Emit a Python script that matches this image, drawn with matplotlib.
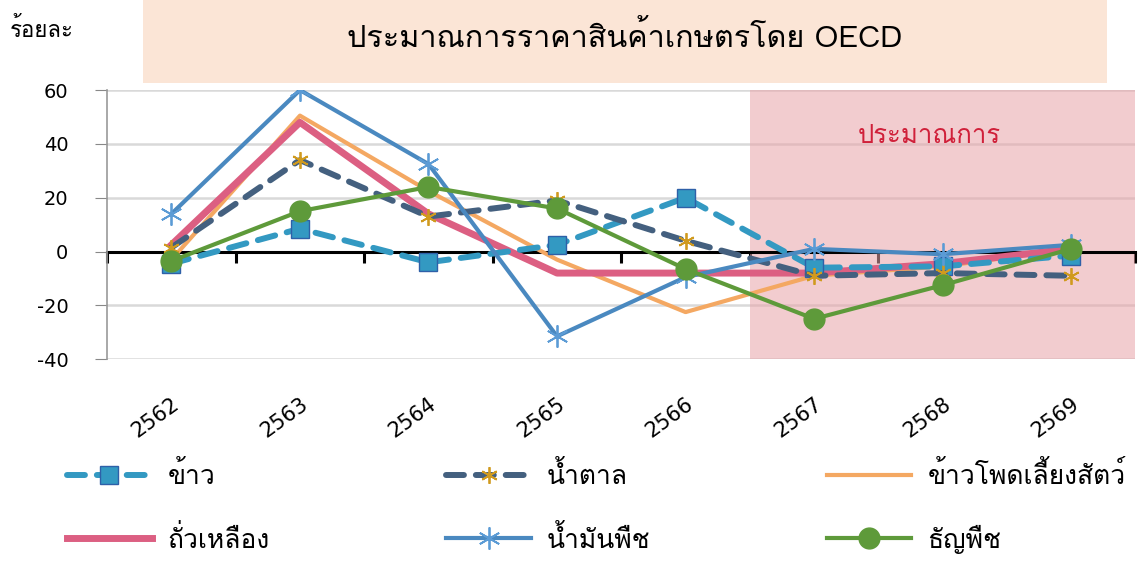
import numpy as np
import matplotlib
matplotlib.use('Agg')
import matplotlib.pyplot as plt
from matplotlib import font_manager
from matplotlib.ft2font import FT2Font
from matplotlib.patches import Rectangle


# ============================================================
#  data
# ============================================================
years = ['2562', '2563', '2564', '2565', '2566', '2567', '2568', '2569']

rice      = [-4.5, 8.5, -4, 2.5, 20, -6, -5.5, -1.5]
sugar     = [1.5, 34, 13, 19, 4, -9, -8, -9]
maize     = [-3, 50.5, 22.5, -3, -22.5, -9, -5.5, 1]
soybean   = [2.5, 48, 14, -8, -8, -8, -4.5, 1]
veg_oil   = [14, 60, 32.5, -31.5, -9.5, 1, -1, 2.5]
cereals   = [-3.5, 15, 24, 16, -6.5, -25, -12.5, 1]

forecast_start = '2567'

labels = ['ข้าว', 'น้ำตาล', 'ข้าวโพดเลี้ยงสัตว์', 'ถั่วเหลือง', 'น้ำมันพืช', 'ธัญพืช']
title = 'ประมาณการราคาสินค้าเกษตรโดย OECD'
y_label = 'ร้อยละ'
forecast_label = 'ประมาณการ'


# ============================================================
#  font with Thai glyphs
# ============================================================
def find_thai_font():
    for f in font_manager.fontManager.ttflist:
        try:
            if 0x0E01 in FT2Font(f.fname).get_charmap():
                return f.name
        except Exception:
            pass
    return None

thai = find_thai_font()
plt.rcParams['font.family'] = [thai, 'DejaVu Sans'] if thai else ['DejaVu Sans']
plt.rcParams['axes.unicode_minus'] = False


# ============================================================
#  figure
# ============================================================
fig = plt.figure(figsize=(11.4, 5.63), dpi=100)
ax = fig.add_axes([0.094, 0.362, 0.902, 0.478])

x = np.arange(len(years))

# forecast shading
fs = years.index(forecast_start) - 0.5
ax.axvspan(fs, len(years) - 0.5, color='#E8A3A8', alpha=0.55, lw=0, zorder=1)
ax.text((fs + len(years) - 0.5) / 2 - 0.1, 43, forecast_label, color='#D0203A',
        fontsize=18.5, ha='center', va='center', zorder=2)

ln_rice, = ax.plot(x, rice, color='#3399C2', lw=4.3, dashes=(3, 2),
                   dash_capstyle='round', marker='s', markersize=12.5,
                   markerfacecolor='#3399C2', markeredgecolor='#2E60A8',
                   markeredgewidth=1, zorder=4)
ln_sugar, = ax.plot(x, sugar, color='#44607F', lw=4.3, dashes=(3, 2),
                    dash_capstyle='round', marker=(6, 2, 0), markersize=12,
                    markeredgecolor='#D09A1E', markeredgewidth=1.3, zorder=4)
ln_maize, = ax.plot(x, maize, color='#F4A862', lw=3, zorder=3)
ln_soy, = ax.plot(x, soybean, color='#DC5F82', lw=5, zorder=3)
ln_oil, = ax.plot(x, veg_oil, color='#4A89C0', lw=3, marker=(6, 2, 0),
                  markersize=16, markeredgecolor='#5B9BD5',
                  markeredgewidth=1.3, zorder=5)
ln_cer, = ax.plot(x, cereals, color='#5E9A3A', lw=3, marker='o',
                  markersize=15, markerfacecolor='#5E9A3A',
                  markeredgecolor='#5E9A3A', zorder=6)

# axes styling
ax.set_xlim(-0.5, len(years) - 0.5)
ax.set_ylim(-40, 60)
ax.set_yticks(np.arange(-40, 61, 20))
ax.yaxis.grid(True, color='#D9D9D9', lw=1.8)
ax.set_axisbelow(True)
ax.tick_params(axis='y', labelsize=14, length=8.5, color='#888888', pad=19.5)
for t in ax.get_yticklabels():
    t.set_family('DejaVu Sans')

for s in ['top', 'right']:
    ax.spines[s].set_visible(False)
ax.spines['left'].set_color('#999999')
ax.spines['left'].set_linewidth(1.2)
ax.spines['bottom'].set_position(('data', 0))
ax.spines['bottom'].set_color('black')
ax.spines['bottom'].set_linewidth(2.2)
ax.spines['bottom'].set_zorder(2)

ax.set_xticks(np.arange(len(years) + 1) - 0.5)
ax.tick_params(axis='x', length=8, width=2.2, color='black', labelbottom=False)

sec = ax.secondary_xaxis('bottom')
sec.set_xticks(x)
sec.set_xticklabels(years, rotation=36, ha='right', rotation_mode='anchor',
                    fontsize=15, family='DejaVu Sans')
sec.tick_params(length=0, pad=25)
sec.spines['bottom'].set_visible(False)

# title box
fig.add_artist(Rectangle((0.125, 0.853), 0.846, 0.147, transform=fig.transFigure,
                         facecolor='#FBE5D6', edgecolor='none', zorder=0))
fig.text(0.548, 0.934, title, fontsize=22, ha='center', va='center')
fig.text(0.009, 0.947, y_label, fontsize=16, ha='left', va='center')

# legend (column-wise fill -> reorder)
handles = [ln_rice, ln_soy, ln_sugar, ln_oil, ln_maize, ln_cer]
names = [labels[0], labels[3], labels[1], labels[4], labels[2], labels[5]]
fig.legend(handles, names, ncol=3, loc='center', bbox_to_anchor=(0.523, 0.099),
           frameon=False, fontsize=19, handlelength=3.2, numpoints=1,
           columnspacing=6.7, labelspacing=1.35, handletextpad=0.6)

plt.savefig('out.png', dpi=100)
plt.close()
